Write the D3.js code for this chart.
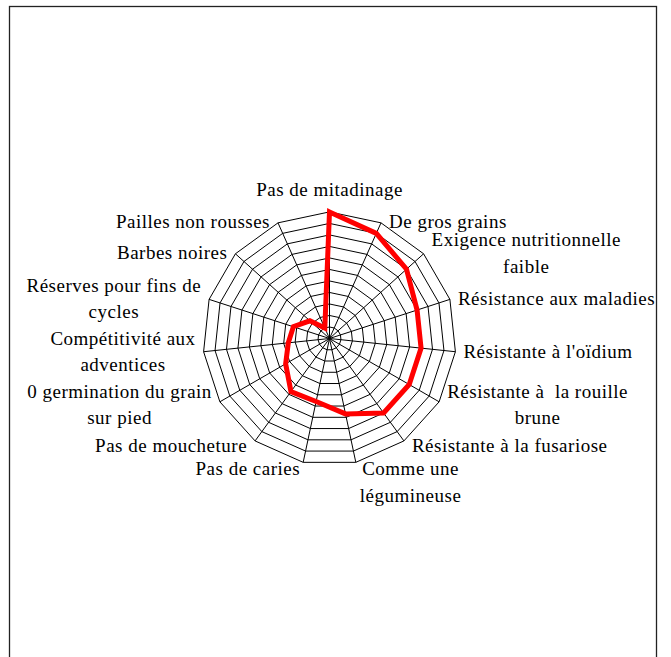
<!DOCTYPE html>
<html>
<head>
<meta charset="utf-8">
<script src="https://cdn.jsdelivr.net/npm/d3@7"></script>
<style>
  body { margin: 0; background: #fff; }
  text { font-family: "Liberation Serif", serif; font-size: 19px; letter-spacing: 0.5px; fill: #000; white-space: pre; }
</style>
</head>
<body>
<div class="radar-plot"></div>
<script>
// axis labels (line breaks as in the chart)
const criteria = [
  "Pas de mitadinage",
  "De gros grains",
  "Exigence nutritionnelle\nfaible",
  "Résistance aux maladies",
  "Résistante à l'oïdium",
  "Résistante à  la rouille\nbrune",
  "Résistante à la fusariose",
  "Comme une\nlégumineuse",
  "Pas de caries",
  "Pas de moucheture",
  "0 germination du grain\nsur pied",
  "Compétitivité aux\nadventices",
  "Réserves pour fins de\ncycles",
  "Barbes noires",
  "Pailles non rousses"
];
const scores = [11, 10, 9, 8, 8, 8, 8, 6.7, 5.6, 5.7, 4.4, 3.6, 3.3, 2.3, 1.0];
const levels = [1, 2, 3, 4, 5, 6, 7, 8, 9, 10, 11];

const width = 671;
const height = 657;
const cx = 329.5, cy = 338.5;

const svg = d3.select('.radar-plot')
    .append('svg')
    .attr('width', width)
    .attr('height', height);

// frame
svg.append('rect')
    .attr('x', 9.5).attr('y', 6.5)
    .attr('width', 647).attr('height', 670)
    .attr('fill', 'none')
    .attr('stroke', '#222')
    .attr('stroke-width', 1.3);

const angle = d3.scaleLinear().domain([0, criteria.length]).range([0, 2 * Math.PI]);
const r = d3.scaleLinear().domain([0, d3.max(levels)]).range([0, 126.6]);

const g = svg.append('g').attr('transform', `translate(${cx},${cy})`);

// rings
const ring = d3.lineRadial()
    .angle((d, i) => angle(i))
    .curve(d3.curveLinearClosed);

g.selectAll('.ring')
    .data(levels)
    .enter()
    .append('path')
    .attr('d', lvl => ring.radius(r(lvl))(criteria))
    .attr('fill', 'none')
    .attr('stroke', '#000')
    .attr('stroke-width', 1);

// spokes
g.selectAll('.spoke')
    .data(criteria)
    .enter()
    .append('line')
    .attr('x1', 0).attr('y1', 0)
    .attr('x2', (d, i) => r(d3.max(levels)) * Math.sin(angle(i)))
    .attr('y2', (d, i) => -r(d3.max(levels)) * Math.cos(angle(i)))
    .attr('stroke', '#000')
    .attr('stroke-width', 1);

// series
const line = d3.lineRadial()
    .angle((d, i) => angle(i))
    .radius(d => r(d))
    .curve(d3.curveLinearClosed);

g.append('path')
    .attr('d', line(scores))
    .attr('fill', 'none')
    .attr('stroke', '#ff0000')
    .attr('stroke-width', 5)
    .attr('stroke-linejoin', 'miter');

// labels
const lh = 26.5;
criteria.forEach((label, i) => {
    const a = angle(i);
    const s = Math.sin(a), c = Math.cos(a);
    const vx = cx + r(d3.max(levels)) * s;
    const vy = cy - r(d3.max(levels)) * c;
    const lines = label.split('\n');

    const t = svg.append('text').attr('text-anchor', 'middle');
    const spans = lines.map(l => t.append('tspan').text(l));
    const w = d3.max(spans, sp => sp.node().getComputedTextLength());

    let mid, y0;
    if (Math.abs(s) < 0.05) {
        mid = vx;
        y0 = vy - 15.5;
    } else if (c < -0.9) {
        mid = s > 0 ? vx + 4 + w / 2 : vx - 3 - w / 2;
        y0 = vy + 13;
    } else {
        mid = s > 0 ? vx + 8 + w / 2 : vx - 8 - w / 2;
        const centerY = vy + 7 * Math.max(0, -c);
        y0 = centerY - (lines.length - 1) * lh / 2 + 5.5;
    }
    spans.forEach((sp, k) => sp.attr('x', mid).attr('y', y0 + k * lh));
});
</script>
</body>
</html>
